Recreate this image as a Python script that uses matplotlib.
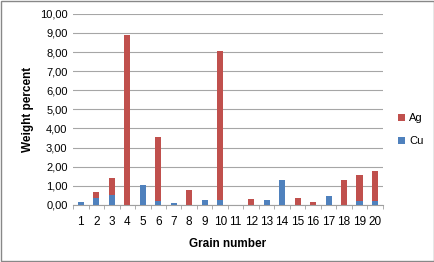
import matplotlib.pyplot as plt
import numpy as np
from matplotlib.ticker import FuncFormatter

# Dữ liệu
grains = list(range(1, 21))
ag = [0.0, 0.68, 1.40, 8.90, 0.0, 3.54, 0.0, 0.78, 0.0, 8.08,
      0.0, 0.33, 0.0, 0.0, 0.35, 0.17, 0.0, 1.32, 1.54, 1.77]
cu = [0.16, 0.35, 0.53, 0.0, 1.05, 0.20, 0.12, 0.0, 0.27, 0.25,
      0.0, 0.0, 0.27, 1.30, 0.0, 0.0, 0.49, 0.0, 0.22, 0.22]

plt.rcParams['font.family'] = ['Liberation Sans', 'DejaVu Sans']

fig = plt.figure(figsize=(4.35, 2.62), dpi=100)
ax = fig.add_axes([0.168, 0.218, 0.712, 0.729])

x = np.array(grains)
red = '#C0504D'
blue = '#4F81BD'
b_ag = ax.bar(x, ag, width=0.4, color=red, zorder=2, label='Ag')
b_cu = ax.bar(x, cu, width=0.4, color=blue, zorder=3, label='Cu')

ax.set_xlim(0.5, 20.5)
ax.set_ylim(0, 10)
ax.set_yticks(np.arange(0, 11, 1))
ax.yaxis.set_major_formatter(FuncFormatter(lambda v, p: f"{v:.2f}".replace('.', ',')))
ax.set_xticks(x)
ax.set_xticks(np.arange(0.5, 21, 1), minor=True)
ax.tick_params(axis='x', which='major', length=0, pad=8, labelsize=8.5)
ax.tick_params(axis='x', which='minor', length=3, color='#A0A0A0')
ax.tick_params(axis='y', length=0, labelsize=8, pad=4)

ax.grid(axis='y', color='#A6A6A6', linewidth=0.8, zorder=0)
for s in ['top', 'right', 'left']:
    ax.spines[s].set_visible(False)
ax.spines['bottom'].set_color('#A0A0A0')

ax.set_ylabel('Weight percent', fontsize=8.5, fontweight='bold', labelpad=4)
ax.set_xlabel('Grain number', fontsize=8.5, fontweight='bold', labelpad=7)

fig.legend(handles=[b_ag, b_cu], loc='center left', bbox_to_anchor=(0.905, 0.505),
           frameon=False, fontsize=8, handlelength=0.6, handleheight=0.6,
           handletextpad=0.4, labelspacing=1.2, borderaxespad=0)

# viền ngoài
fig.patches.append(plt.Rectangle((0.002, 0.003), 0.995, 0.993, transform=fig.transFigure,
                                 fill=False, edgecolor='#888888', linewidth=1))

plt.savefig("out.png", dpi=100)
